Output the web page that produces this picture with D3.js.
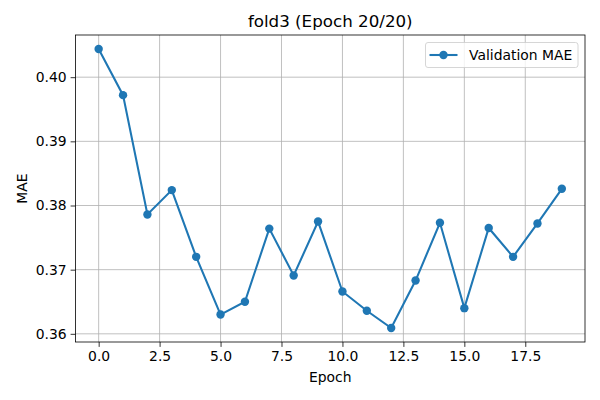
<!DOCTYPE html>
<html>
<head>
<meta charset="utf-8">
<script src="https://cdn.jsdelivr.net/npm/d3@7"></script>
<style>
  body { margin: 0; background: #fff; }
  svg { font-family: "DejaVu Sans", sans-serif; }
</style>
</head>
<body>
<svg id="chart" width="600" height="400"></svg>
<script>
// DATA
epochs = d3.range(20);
maeValues = [0.4044, 0.3972, 0.3786, 0.3824, 0.3720, 0.3630, 0.3650, 0.3764, 0.3691, 0.3775,
             0.3666, 0.3636, 0.3609, 0.3683, 0.3773, 0.3640, 0.3765, 0.3720, 0.3772, 0.3826];
xTicks = [0, 2.5, 5, 7.5, 10, 12.5, 15, 17.5];
yTicks = [0.36, 0.37, 0.38, 0.39, 0.40];
seriesName = "Validation MAE";
titleText = "fold3 (Epoch 20/20)";

// LAYOUT (plot box edges)
plotLeft = 75.5; plotRight = 585; plotTop = 35; plotBottom = 342;
color = "#1f77b4";

svg = d3.select("#chart");

xPad = (d3.max(epochs) - d3.min(epochs)) * 0.05;
x = d3.scaleLinear()
  .domain([d3.min(epochs) - xPad, d3.max(epochs) + xPad])
  .range([plotLeft, plotRight]);

yPad = (d3.max(maeValues) - d3.min(maeValues)) * 0.05;
y = d3.scaleLinear()
  .domain([d3.min(maeValues) - yPad, d3.max(maeValues) + yPad])
  .range([plotBottom, plotTop]);

// GRID
svg.append("g")
  .selectAll("line")
  .data(xTicks)
  .join("line")
  .attr("x1", d => x(d)).attr("x2", d => x(d))
  .attr("y1", plotTop).attr("y2", plotBottom)
  .attr("stroke", "#b0b0b0").attr("stroke-width", 0.8);

svg.append("g")
  .selectAll("line")
  .data(yTicks)
  .join("line")
  .attr("x1", plotLeft).attr("x2", plotRight)
  .attr("y1", d => y(d)).attr("y2", d => y(d))
  .attr("stroke", "#b0b0b0").attr("stroke-width", 0.8);

// AXES
xAxis = d3.axisBottom(x)
  .tickValues(xTicks)
  .tickFormat(d3.format(".1f"))
  .tickSize(4.9)
  .tickPadding(4);

yAxis = d3.axisLeft(y)
  .tickValues(yTicks)
  .tickFormat(d3.format(".2f"))
  .tickSize(4.9)
  .tickPadding(4);

gx = svg.append("g")
  .attr("transform", "translate(0," + plotBottom + ")")
  .call(xAxis);

gy = svg.append("g")
  .attr("transform", "translate(" + plotLeft + ",0)")
  .call(yAxis);

[gx, gy].forEach(function(g) {
    g.select(".domain").remove();
    g.selectAll(".tick line").attr("stroke", "#000").attr("stroke-width", 0.8);
    g.selectAll(".tick text")
      .attr("fill", "#000")
      .style("font-size", "13.9px")
      .style("font-family", "DejaVu Sans");
});

// spines
svg.append("rect")
  .attr("x", plotLeft).attr("y", plotTop)
  .attr("width", plotRight - plotLeft).attr("height", plotBottom - plotTop)
  .attr("fill", "none")
  .attr("stroke", "#000").attr("stroke-width", 0.8);

// LINE
line = d3.line()
  .x((d, i) => x(epochs[i]))
  .y(d => y(d));

svg.append("path")
  .datum(maeValues)
  .attr("d", line)
  .attr("fill", "none")
  .attr("stroke", color)
  .attr("stroke-width", 2.08);

svg.append("g")
  .selectAll("circle")
  .data(maeValues)
  .join("circle")
  .attr("cx", (d, i) => x(epochs[i]))
  .attr("cy", d => y(d))
  .attr("r", 4.2)
  .attr("fill", color);

// TITLE + LABELS
svg.append("text")
  .attr("x", (plotLeft + plotRight) / 2)
  .attr("y", 27)
  .attr("text-anchor", "middle")
  .style("font-size", "16.7px")
  .text(titleText);

svg.append("text")
  .attr("x", (plotLeft + plotRight) / 2)
  .attr("y", 382)
  .attr("text-anchor", "middle")
  .style("font-size", "13.9px")
  .text("Epoch");

svg.append("text")
  .attr("transform", "translate(27," + ((plotTop + plotBottom) / 2) + ") rotate(-90)")
  .attr("text-anchor", "middle")
  .style("font-size", "13.9px")
  .text("MAE");

// LEGEND
legend = svg.append("g")
  .attr("transform", "translate(425.5,42.5)");

legend.append("rect")
  .attr("width", 152.5).attr("height", 25)
  .attr("rx", 2.5)
  .attr("fill", "#fff").attr("fill-opacity", 0.8)
  .attr("stroke", "#cccccc").attr("stroke-width", 0.8);

legend.append("line")
  .attr("x1", 4).attr("x2", 32)
  .attr("y1", 12.5).attr("y2", 12.5)
  .attr("stroke", color).attr("stroke-width", 2.08);

legend.append("circle")
  .attr("cx", 18).attr("cy", 12.5).attr("r", 4.2)
  .attr("fill", color);

legend.append("text")
  .attr("x", 43.5).attr("y", 17.5)
  .style("font-size", "13.9px")
  .text(seriesName);
</script>
</body>
</html>
